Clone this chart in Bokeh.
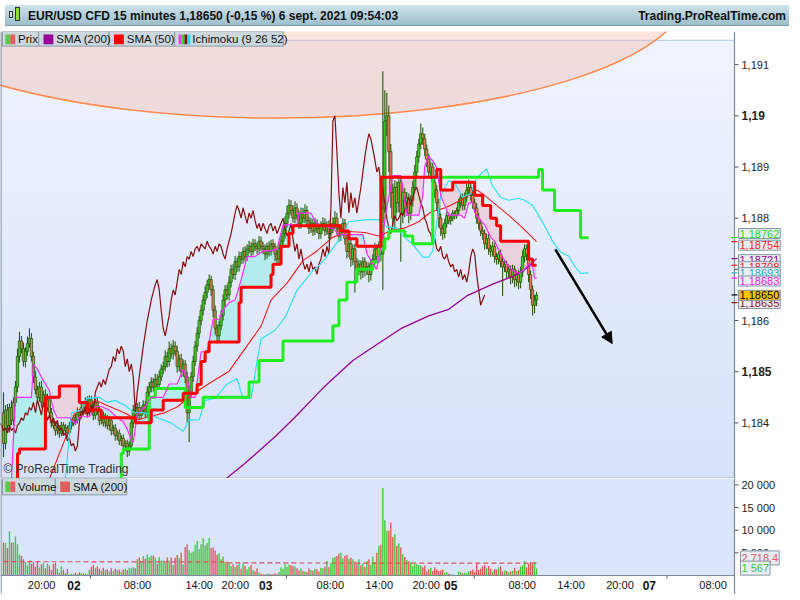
import numpy as np
from bokeh.plotting import figure
from bokeh.models import Range1d, Label, Arrow, NormalHead, Div
from bokeh.layouts import column
from bokeh.embed import file_html
from bokeh.resources import INLINE

FONT = "Liberation Sans"

# ---------------- DATA (15-minute bars, index 0 = first visible bar) ----------------
FIRST_OPEN = 1.18420
CLOSE = [
    1.18360, 1.18425, 1.18395, 1.18430, 1.18405, 1.18440, 1.18470, 1.18530, 1.18560, 1.18545,
    1.18520, 1.18540, 1.18555, 1.18565, 1.18530, 1.18490, 1.18465, 1.18450, 1.18470, 1.18440,
    1.18455, 1.18430, 1.18445, 1.18420, 1.18400, 1.18395, 1.18385, 1.18390, 1.18380, 1.18395,
    1.18385, 1.18390, 1.18380, 1.18395, 1.18400, 1.18410, 1.18405, 1.18420, 1.18415, 1.18430,
    1.18425, 1.18440, 1.18420, 1.18445, 1.18430, 1.18415, 1.18440, 1.18425, 1.18405, 1.18415,
    1.18400, 1.18410, 1.18395, 1.18405, 1.18385, 1.18390, 1.18375, 1.18380, 1.18365, 1.18370,
    1.18355, 1.18360, 1.18345, 1.18355, 1.18400, 1.18425, 1.18415, 1.18430, 1.18415, 1.18425,
    1.18435, 1.18420, 1.18460, 1.18470, 1.18480, 1.18470, 1.18485, 1.18475, 1.18490, 1.18505,
    1.18510, 1.18530, 1.18520, 1.18545, 1.18535, 1.18550, 1.18540, 1.18510, 1.18525, 1.18500,
    1.18515, 1.18490, 1.18420, 1.18460, 1.18490, 1.18520, 1.18550, 1.18575, 1.18600, 1.18620,
    1.18640, 1.18655, 1.18670, 1.18680, 1.18660, 1.18620, 1.18585, 1.18570, 1.18590, 1.18610,
    1.18640, 1.18660, 1.18650, 1.18675, 1.18700, 1.18690, 1.18715, 1.18705, 1.18725, 1.18720,
    1.18735, 1.18725, 1.18740, 1.18745, 1.18735, 1.18750, 1.18745, 1.18740, 1.18755, 1.18745,
    1.18740, 1.18730, 1.18745, 1.18735, 1.18750, 1.18745, 1.18730, 1.18720, 1.18740, 1.18755,
    1.18770, 1.18790, 1.18810, 1.18825, 1.18815, 1.18800, 1.18820, 1.18805, 1.18790, 1.18810,
    1.18800, 1.18815, 1.18795, 1.18780, 1.18790, 1.18775, 1.18790, 1.18780, 1.18770, 1.18785,
    1.18790, 1.18775, 1.18785, 1.18770, 1.18780, 1.18790, 1.18800, 1.18780, 1.18765, 1.18775,
    1.18790, 1.18760, 1.18735, 1.18750, 1.18720, 1.18740, 1.18715, 1.18700, 1.18710, 1.18695,
    1.18715, 1.18700, 1.18705, 1.18690, 1.18710, 1.18720, 1.18740, 1.18725, 1.18745, 1.18730,
    1.18820, 1.18990, 1.19000, 1.18930, 1.18850, 1.18800, 1.18860, 1.18830, 1.18870, 1.18810,
    1.18850, 1.18820, 1.18840, 1.18810, 1.18835, 1.18860, 1.18890, 1.18920, 1.18945, 1.18965,
    1.18955, 1.18935, 1.18915, 1.18890, 1.18900, 1.18870, 1.18855, 1.18830, 1.18800, 1.18780,
    1.18770, 1.18790, 1.18805, 1.18795, 1.18800, 1.18810, 1.18805, 1.18815, 1.18830, 1.18840,
    1.18825, 1.18840, 1.18855, 1.18860, 1.18845, 1.18830, 1.18820, 1.18800, 1.18790, 1.18775,
    1.18770, 1.18750, 1.18760, 1.18740, 1.18735, 1.18745, 1.18725, 1.18720, 1.18730, 1.18715,
    1.18705, 1.18710, 1.18695, 1.18700, 1.18685, 1.18700, 1.18680, 1.18690, 1.18675, 1.18695,
    1.18725, 1.18740, 1.18730, 1.18690, 1.18660, 1.18630, 1.18640, 1.18650,
]
# wick lengths above / below the body, in points (0.00001)
WICK_UP = [
    40, 10, 12, 8, 14, 10, 12, 15, 18, 10, 12, 8, 14, 20, 10, 9, 12, 8, 10, 12,
    8, 10, 12, 7, 9, 6, 8, 10, 5, 7, 6, 8, 5, 7, 9, 6, 8, 10, 7, 9,
    8, 10, 12, 9, 8, 10, 7, 9, 8, 6, 7, 9, 6, 8, 7, 6, 8, 5, 7, 6,
    8, 6, 7, 9, 12, 10, 8, 9, 11, 7, 9, 8, 12, 10, 9, 8, 11, 10, 12, 9,
    10, 12, 9, 14, 10, 12, 9, 11, 8, 10, 9, 8, 10, 12, 9, 11, 10, 12, 9, 11,
    10, 12, 9, 10, 8, 9, 10, 7, 9, 10, 11, 9, 10, 12, 9, 10, 11, 8, 10, 9,
    8, 10, 9, 11, 8, 10, 9, 8, 10, 9, 8, 9, 7, 10, 8, 9, 7, 8, 9, 11,
    12, 14, 15, 12, 10, 11, 13, 9, 10, 11, 10, 12, 9, 8, 10, 9, 11, 8, 10, 9,
    12, 10, 9, 11, 10, 12, 14, 10, 9, 11, 10, 9, 8, 10, 9, 8, 10, 7, 9, 8,
    9, 8, 10, 9, 8, 10, 12, 9, 10, 9, 267, 60, 45, 20, 15, 18, 14, 12, 15, 10,
    12, 9, 11, 8, 10, 12, 14, 12, 10, 20, 12, 10, 9, 11, 10, 8, 9, 10, 8, 9,
    7, 9, 8, 6, 7, 6, 5, 6, 8, 9, 8, 10, 12, 15, 9, 10, 8, 9, 10, 8,
    9, 8, 10, 9, 8, 10, 9, 8, 7, 9, 8, 9, 7, 10, 8, 9, 7, 8, 9, 10,
    12, 9, 8, 10, 8, 9, 10, 6,
]
WICK_DN = [
    27, 12, 10, 14, 9, 11, 8, 10, 12, 9, 10, 12, 9, 8, 10, 12, 9, 11, 8, 10,
    9, 11, 8, 10, 9, 7, 10, 8, 9, 6, 7, 8, 9, 6, 8, 7, 9, 6, 8, 7,
    9, 8, 10, 7, 9, 10, 8, 9, 10, 8, 7, 9, 8, 10, 9, 8, 10, 9, 8, 10,
    9, 10, 12, 9, 8, 10, 9, 8, 10, 9, 8, 10, 9, 8, 10, 9, 8, 10, 9, 8,
    10, 9, 12, 10, 9, 11, 10, 12, 9, 11, 10, 12, 20, 58, 12, 10, 9, 11, 10, 9,
    10, 9, 11, 10, 12, 14, 12, 15, 10, 9, 10, 12, 9, 11, 10, 9, 11, 10, 9, 10,
    9, 10, 8, 9, 10, 8, 9, 10, 8, 9, 10, 12, 9, 10, 8, 9, 14, 12, 9, 10,
    9, 10, 8, 11, 10, 9, 10, 9, 11, 10, 9, 10, 12, 11, 9, 10, 8, 9, 11, 10,
    9, 10, 8, 11, 10, 9, 10, 12, 11, 9, 10, 12, 14, 11, 15, 12, 60, 14, 12, 15,
    12, 14, 11, 15, 12, 10, 11, 12, 10, 14, 70, 10, 30, 40, 30, 22, 25, 20, 18, 95,
    20, 18, 15, 20, 14, 12, 10, 12, 11, 10, 12, 14, 15, 12, 14, 12, 15, 14, 18, 15,
    12, 9, 8, 7, 8, 6, 7, 6, 8, 9, 10, 9, 8, 10, 11, 12, 10, 11, 12, 10,
    12, 11, 10, 12, 11, 10, 12, 11, 10, 12, 57, 10, 12, 11, 14, 12, 15, 13, 14, 12,
    10, 11, 12, 15, 18, 20, 16, 12,
]
VOLUME = [
    7300, 7200, 6100, 9700, 7300, 7300, 8600, 6900, 4600, 4300,
    3600, 3000, 2200, 3300, 2600, 2900, 2000, 3100, 1800, 2500,
    2800, 1600, 2600, 2200, 1200, 2600, 2800, 1500, 600, 2000,
    1200, 500, 1500, 300, 400, 300, 600, 350, 700, 500,
    400, 450, 300, 1200, 1900, 2300, 1600, 2000, 1500, 1100,
    1700, 1200, 1400, 900, 1600, 1000, 1500, 1200, 1300, 900,
    1300, 1500, 1200, 1700, 1600, 1800, 1600, 3600, 4000, 3200,
    4300, 3700, 4700, 4100, 4400, 4400, 3900, 2600, 4100, 3300,
    3300, 2800, 4000, 3300, 4000, 2300, 3900, 4500, 3800, 5100,
    2500, 6300, 6900, 5600, 5000, 5300, 6800, 7600, 5800, 6900,
    8200, 6600, 7200, 8300, 6100, 6200, 5500, 4600, 4900, 3600,
    4200, 2900, 3100, 2600, 2100, 2500, 1900, 2300, 2600, 1500,
    2700, 2100, 1300, 1900, 2300, 1200, 900, 1600, 600, 400,
    300, 200, 350, 400, 250, 300, 500, 250, 800, 1800,
    1500, 2600, 1900, 2400, 2300, 2100, 2000, 1600, 1100, 1600,
    1000, 900, 800, 1600, 1200, 1100, 1500, 1400, 900, 1700,
    1600, 2000, 3200, 1800, 2700, 3900, 4100, 4300, 4800, 5000,
    3800, 4300, 4600, 3700, 3900, 3600, 3100, 2500, 3600, 2200,
    2600, 1900, 3200, 3600, 2400, 4200, 3000, 5000, 6500, 6800,
    19300, 12200, 9900, 9900, 11700, 8500, 9100, 6500, 7100, 6200,
    4700, 4100, 3400, 3200, 3000, 2000, 2500, 2500, 2300, 2200,
    1800, 2200, 900, 1400, 1700, 1000, 1800, 1300, 1000, 1100,
    1300, 600, 800, 400, 300, 200, 100, 100, 900, 700,
    500, 600, 500, 900, 1000, 1300, 700, 2700, 1200, 1500,
    2000, 2300, 1600, 2100, 1500, 900, 1400, 1300, 1800, 2000,
    900, 1100, 1000, 700, 900, 1000, 1700, 1000, 1200, 2000,
    2200, 3200, 1800, 2600, 3000, 2600, 3000, 1567,
]
VOL_SMA_BARS = [0, 110, 112, 267]
VOL_SMA = [3050, 3000, 2780, 2718.4]

SMA200_BARS = [108, 121, 136, 146, 160, 175, 187, 199, 213, 223, 232, 245, 255, 262, 267]
SMA200_VALS = [1.18280, 1.18321, 1.18373, 1.18411, 1.18468, 1.18522, 1.18553, 1.18584,
               1.18609, 1.18622, 1.18648, 1.18671, 1.18686, 1.18702, 1.18721]

SMA50_BARS = [23, 36, 46, 52, 61, 67, 73, 80, 87, 95, 103, 113, 121, 129, 134, 142, 150,
              157, 165, 173, 181, 188, 193, 201, 208, 214, 221, 229, 237, 240, 247, 253, 260, 267]
SMA50_VALS = [1.18291, 1.18419, 1.18444, 1.18434, 1.18419, 1.18406, 1.18412, 1.18419, 1.18431,
              1.18457, 1.18477, 1.18501, 1.18545, 1.18589, 1.18640, 1.18673, 1.18717, 1.18736,
              1.18763, 1.18774, 1.18772, 1.18765, 1.18774, 1.18781, 1.18793, 1.18812, 1.18820,
              1.18835, 1.18855, 1.18848, 1.18825, 1.18806, 1.18781, 1.18754]

# Ichimoku (9 26 52)
ICHI_RED_BARS = [4, 7, 8, 21, 28, 38, 42, 49, 66, 74, 80, 90, 97, 99, 101, 103, 118, 119, 134,
                 135, 139, 143, 145, 169, 173, 177, 189, 217, 219, 225, 236, 240, 244, 247, 249,
                 263, 265, 267]
ICHI_RED_VALS = [1.18270, 1.18340, 1.18349, 1.18450, 1.18472, 1.18440, 1.18425, 1.18410, 1.18400,
                 1.18425, 1.18444, 1.18458, 1.18475, 1.18520, 1.18539, 1.18558, 1.18635, 1.18665,
                 1.18690, 1.18710, 1.18745, 1.18770, 1.18785, 1.18775, 1.18760, 1.18745, 1.18880,
                 1.18895, 1.18855, 1.18870, 1.18845, 1.18825, 1.18800, 1.18785, 1.18755, 1.18720,
                 1.18708, 1.18708]
ICHI_GREEN_BARS = [57, 59, 60, 73, 76, 91, 100, 123, 128, 140, 165, 168, 172, 177, 185, 188, 191,
                   193, 201, 205, 215, 268, 270, 276, 289, 293]
ICHI_GREEN_VALS = [1.18290, 1.18340, 1.18349, 1.18450, 1.18467, 1.18430, 1.18450, 1.18480, 1.18522,
                   1.18560, 1.18590, 1.18640, 1.18675, 1.18700, 1.18715, 1.18740, 1.18760, 1.18775,
                   1.18765, 1.18750, 1.18880, 1.18895, 1.18855, 1.18815, 1.18762, 1.18762]
ICHI_CYAN_BARS = [31, 34, 39, 42, 48, 52, 56, 61, 65, 72, 77, 84, 90, 93, 98, 101, 106, 112, 117,
                  120, 124, 127, 129, 136, 141, 147, 150, 155, 159, 164, 170, 173, 182, 188, 192,
                  197, 201, 205, 210, 213, 215, 219, 223, 226, 230, 234, 237, 242, 245, 249, 253,
                  258, 261, 265, 268, 272, 275, 279, 283, 286, 289, 293]
ICHI_CYAN_VALS = [1.18291, 1.18419, 1.18425, 1.18448, 1.18450, 1.18440, 1.18444, 1.18434, 1.18421,
                  1.18419, 1.18410, 1.18400, 1.18383, 1.18406, 1.18406, 1.18444, 1.18448, 1.18476,
                  1.18486, 1.18448, 1.18448, 1.18520, 1.18564, 1.18581, 1.18606, 1.18659, 1.18673,
                  1.18698, 1.18711, 1.18736, 1.18768, 1.18793, 1.18797, 1.18797, 1.18783, 1.18781,
                  1.18762, 1.18749, 1.18724, 1.18724, 1.18736, 1.18844, 1.18873, 1.18869, 1.18841,
                  1.18848, 1.18879, 1.18896, 1.18863, 1.18841, 1.18835, 1.18839, 1.18835, 1.18825,
                  1.18806, 1.18778, 1.18755, 1.18734, 1.18726, 1.18707, 1.18692, 1.18693]
ICHI_MAG_BARS = [4, 6, 14, 15, 17, 20, 23, 25, 27, 33, 36, 38, 43, 46, 49, 53, 57, 60, 62, 64,
                 65, 67, 71, 74, 80, 83, 87, 90, 92, 94, 96, 99, 102, 105, 108, 110, 113, 116, 119,
                 122, 126, 130, 134, 137, 140, 147, 148, 154, 156, 158, 165, 168, 180, 182, 185,
                 187, 189, 192, 195, 199, 202, 208, 209, 210, 211, 213, 215, 217, 219, 221, 223,
                 229, 231, 233, 235, 236, 238, 241, 244, 246, 249, 252, 255, 258, 261, 263, 265,
                 266, 267]
ICHI_MAG_VALS = [1.18291, 1.18450, 1.18450, 1.18515, 1.18505, 1.18482, 1.18463, 1.18425, 1.18410,
                 1.18410, 1.18398, 1.18412, 1.18412, 1.18432, 1.18432, 1.18425, 1.18410, 1.18402,
                 1.18387, 1.18368, 1.18362, 1.18418, 1.18432, 1.18450, 1.18450, 1.18476, 1.18476,
                 1.18505, 1.18486, 1.18450, 1.18450, 1.18539, 1.18539, 1.18602, 1.18602, 1.18621,
                 1.18635, 1.18640, 1.18679, 1.18725, 1.18725, 1.18736, 1.18736, 1.18740, 1.18787,
                 1.18787, 1.18810, 1.18810, 1.18795, 1.18787, 1.18780, 1.18768, 1.18768, 1.18730,
                 1.18711, 1.18700, 1.18745, 1.18820, 1.18883, 1.18883, 1.18806, 1.18806, 1.18825,
                 1.18844, 1.18902, 1.18921, 1.18912, 1.18898, 1.18844, 1.18825, 1.18806, 1.18806,
                 1.18800, 1.18830, 1.18830, 1.18812, 1.18800, 1.18787, 1.18763, 1.18755, 1.18730,
                 1.18711, 1.18698, 1.18692, 1.18700, 1.18711, 1.18705, 1.18683, 1.18683]
CHIKOU_SHIFT = 26

# drawing objects (bar index / price)
ELLIPSE = dict(x=136.7, y=1.192436, w=411.8, h=0.004959)
ARROW = dict(x0=276.4, y0=1.18739, x1=304.9, y1=1.18555)

# axes
TIME_TICK_BARS = [19.1, 35.3, 67.1, 98.0, 116.1, 131.3, 163.7, 188.2, 211.7, 224.0, 259.8, 284.3, 308.8, 323.5, 355.4]
TIME_TICK_LABELS = ["20:00", "02", "08:00", "14:00", "20:00", "03", "08:00", "14:00", "20:00",
                    "05", "08:00", "14:00", "20:00", "07", "08:00"]
TIME_MINOR_BARS = [43.6, 141.7, 235.8, 332.3]
PRICE_TICKS = [1.184, 1.185, 1.186, 1.187, 1.188, 1.189, 1.190, 1.191]
PRICE_TICK_LABELS = ["1,184", "1,185", "1,186", "1,187", "1,188", "1,189", "1,19", "1,191"]
VOL_TICKS = [5000, 10000, 15000, 20000]
VOL_TICK_LABELS = ["5 000", "10 000", "15 000", "20 000"]

TAG_TEXTS = ["1,18762", "1,18754", "1,18721", "1,18708", "1,18693", "1,18683", "1,18635", "1,18650"]
TAG_COLORS = ["#22dd22", "#ff2222", "#990099", "#ee2222", "#19b2c4", "#ee22ee", "#8b1010", "#000000"]
TAG_VALUES = [1.18762, 1.18754, 1.18721, 1.18708, 1.18693, 1.18683, 1.18635, 1.18650]
TAG_POS = [1.187700, 1.187472, 1.187191, 1.187052, 1.186937, 1.186771, 1.186333, 1.186493]
VTAG_TEXTS = ["2 718,4", "1 567"]
VTAG_COLORS = ["#e85a5a", "#33cc33"]
VTAG_POS = [3880, 1630]

# ---------------- LAYOUT ----------------
W, AXW = 784, 50
FW = W - AXW
HEAD_H, MAIN_H, VOL_FH, XAX_H = 21, 447, 97, 19
X0 = -1.5
X1 = X0 + 750 / 2.04          # right edge of the plotting area (axis line)
BPP = (X1 - X0) / FW          # bars per screen pixel
XE = X1 + AXW * BPP           # right edge of the figure
Y0, Y1 = 1.182913, 1.191648
VY1 = 21421.0
VYB = -XAX_H / VOL_FH * VY1   # bottom of the time-axis strip


def mx(px):
    return X0 + px / 750.0 * (X1 - X0)


def my(py):
    return Y1 - (py - 22.0) / 458.0 * (Y1 - Y0)


def vy(py):
    return (581.0 - py) / 101.0 * VY1


GREEN_UP = "#3fd02a"
RED_DN = "#f07a5e"
OUTLINE = "#2a5a0c"
AXIS_C = "#7b8b97"

header_html = (
    '<div style="position:relative;width:784px;height:21px;box-sizing:border-box;'
    'background:linear-gradient(#cfe3eb,#9cbecb);border-bottom:1px solid #7f99a5;'
    "font-family:'Liberation Sans',Arial,sans-serif;font-weight:bold;font-size:12px;color:#111;\">"
    '<span style="position:absolute;left:4px;top:6px;width:4px;height:7px;border:1px solid #333;background:#ddd"></span>'
    '<span style="position:absolute;left:10px;top:2px;width:5px;height:14px;border:1px solid #333;background:#8fdc30"></span>'
    '<span style="position:absolute;left:23px;top:3px;">EUR/USD CFD 15 minutes 1,18650 (-0,15 %) 6 sept. 2021 09:54:03</span>'
    '<span style="position:absolute;right:3px;top:3px;">Trading.ProRealTime.com</span></div>'
)
header = Div(text=header_html, width=W, height=HEAD_H)

xr = Range1d(X0, XE)


def base_fig(height, y0, y1):
    f = figure(width=W, height=height, x_range=xr, y_range=Range1d(y0, y1),
               output_backend="svg", toolbar_location=None, x_axis_location=None,
               y_axis_location=None, min_border=0)
    f.grid.visible = False
    f.background_fill_color = "white"
    f.border_fill_color = "white"
    f.outline_line_color = None
    return f


def lab(f, x, y, text, size="11px", color="#222222", bold=False, align="left", **kw):
    f.add_layout(Label(x=x, y=y, text=text, text_font=FONT, text_font_size=size,
                       text_font_style="bold" if bold else "normal", text_color=color,
                       text_align=align, text_baseline="middle", **kw))


# ---------------- MAIN PANEL ----------------
p = base_fig(MAIN_H, Y0, Y1)

n = 46
top_line = my(31)
edges = np.linspace(Y0, top_line, n + 1)
top_c, bot_c = (240, 244, 254), (215, 225, 249)
cols = []
for k in range(n):
    t = (k + 0.5) / n
    rgb = tuple(int(round(b + (a - b) * t)) for a, b in zip(top_c, bot_c))
    cols.append("#%02x%02x%02x" % rgb)
p.quad(left=X0, right=X1, bottom=edges[:-1], top=edges[1:], fill_color=cols, line_color=cols, line_width=1)
p.segment(x0=[X0], x1=[X1], y0=[top_line], y1=[top_line], line_color="#b5c7ee", line_width=1)

# ellipse drawing
p.ellipse(x=[ELLIPSE["x"]], y=[ELLIPSE["y"]], width=[ELLIPSE["w"]], height=[ELLIPSE["h"]],
          fill_color="#f6a080", fill_alpha=0.27, line_color="#ff8a4e", line_width=1.5)

# cloud fill between red and magenta lines
gx = np.arange(ICHI_RED_BARS[0], ICHI_RED_BARS[-1] + 0.001, 0.05)
rv = np.array(ICHI_RED_VALS)
red_g = rv[np.searchsorted(np.array(ICHI_RED_BARS), gx, side="right") - 1]
mag_g = np.interp(gx, ICHI_MAG_BARS, ICHI_MAG_VALS)
hi_g = np.maximum(red_g, mag_g)
p.varea(x=gx, y1=red_g, y2=hi_g, fill_color="#b3ecee")
p.varea(x=gx, y1=mag_g, y2=hi_g, fill_color="#ead3df")

# candles
idx = np.arange(len(CLOSE))
close = np.array(CLOSE)
opn = np.concatenate([[FIRST_OPEN], close[:-1]])
btop = np.maximum(opn, close)
bbot = np.minimum(opn, close)
high = btop + np.array(WICK_UP) * 1e-5
low = bbot - np.array(WICK_DN) * 1e-5
up = close >= opn
ccol = [GREEN_UP if u else RED_DN for u in up]
p.segment(x0=idx, x1=idx, y0=low, y1=high, line_color=OUTLINE, line_width=1.1)
p.vbar(x=idx, width=1.15, top=btop, bottom=bbot, fill_color=ccol, line_color=OUTLINE, line_width=0.8)

# indicator lines
p.line(SMA200_BARS, SMA200_VALS, line_color="#990099", line_width=1.3)
p.line(SMA50_BARS, SMA50_VALS, line_color="#ff1a1a", line_width=1.1)
p.line(idx - CHIKOU_SHIFT, close, line_color="#8b0d0d", line_width=1.2)
p.line(ICHI_CYAN_BARS, ICHI_CYAN_VALS, line_color="#2fe4f2", line_width=1.2)
p.step(ICHI_GREEN_BARS, ICHI_GREEN_VALS, mode="after", line_color="#1fee1f", line_width=3)
p.line(ICHI_MAG_BARS, ICHI_MAG_VALS, line_color="#ff2bff", line_width=1.2)
p.step(ICHI_RED_BARS, ICHI_RED_VALS, mode="after", line_color="#ff0000", line_width=3)

p.add_layout(Arrow(end=NormalHead(size=11, fill_color="black", line_color="black"),
                   x_start=ARROW["x0"], y_start=ARROW["y0"], x_end=ARROW["x1"], y_end=ARROW["y1"],
                   line_color="black", line_width=2.5))

# right axis area
p.quad(left=[X1], right=[XE], bottom=[Y0], top=[Y1], fill_color="white", line_color=None)
p.segment(x0=[X1], x1=[X1], y0=[Y0], y1=[Y1], line_color=AXIS_C, line_width=1.2)
p.segment(x0=[X0 + 0.5 * BPP], x1=[X0 + 0.5 * BPP], y0=[Y0], y1=[Y1], line_color=AXIS_C, line_width=1.2)
p.segment(x0=[X0], x1=[X1], y0=[Y0], y1=[Y0], line_color=AXIS_C, line_width=1.5)
p.segment(x0=[X1] * len(PRICE_TICKS), x1=[X1 + 4 * BPP] * len(PRICE_TICKS),
          y0=PRICE_TICKS, y1=PRICE_TICKS, line_color="#555555", line_width=1)
p.segment(x0=[X1 - 3 * BPP] * len(TAG_VALUES), x1=[X1 + 3 * BPP] * len(TAG_VALUES),
          y0=TAG_VALUES, y1=TAG_VALUES, line_color=TAG_COLORS, line_width=1.2)

# legend row
LEG_BG, LEG_BD = "#ccd8de", "#8b9ca7"
for a, b in [(2, 39), (39, 111), (111, 178), (178, 289)]:
    p.quad(left=[mx(a)], right=[mx(b)], bottom=[my(37)], top=[my(22)], fill_color=LEG_BG, line_color=LEG_BD)
sw = [(5, 10, "#55cc44"), (10, 15, "#e06060"), (44, 54, "#990099"), (116, 126, "#ff0000"),
      (182, 185, "#ff33ff"), (185, 188, "#22dd22"), (188, 191, "#8b0d0d"), (191, 194, "#22ddee")]
for a, b, c in sw:
    p.quad(left=[mx(a)], right=[mx(b)], bottom=[my(35)], top=[my(25)], fill_color=c, line_color=None)
for xpx, txt in [(18, "Prix"), (57, "SMA (200)"), (129, "SMA (50)"), (196, "Ichimoku (9 26 52)")]:
    lab(p, mx(xpx), my(29.5), txt, size="11.5px", color="#111111")

lab(p, mx(3), my(470.5), "\u00a9 ProRealTime Trading", size="12px", color="#333333")

for v_, t_ in zip(PRICE_TICKS, PRICE_TICK_LABELS):
    bold = t_ in ("1,19", "1,185")
    lab(p, X1 + 7 * BPP, v_, t_, size="12px" if bold else "11px", bold=bold)
for txt, col, ypos in zip(TAG_TEXTS, TAG_COLORS, TAG_POS):
    bg = "#f7c600" if txt == "1,18650" else "#e9eef4"
    lab(p, X1 + 4 * BPP, ypos, txt, color=col, background_fill_color=bg,
        border_line_color="#8796a3", padding=1)

# ---------------- VOLUME PANEL ----------------
v = base_fig(VOL_FH + XAX_H, VYB, VY1)
v.quad(left=[X0], right=[X1], bottom=[0], top=[VY1], fill_color="#dae4fb", line_color=None)

vcol = ["#3fcc33" if u else "#e65656" for u in up]
v.vbar(x=idx, width=0.68, top=VOLUME, bottom=0, fill_color=vcol, line_color=None)
v.line(VOL_SMA_BARS, VOL_SMA, line_color="#e05050", line_width=1.2, line_dash="5 3")

v.segment(x0=[X1], x1=[X1], y0=[VYB], y1=[VY1], line_color=AXIS_C, line_width=1.2)
v.segment(x0=[X0 + 0.5 * BPP], x1=[X0 + 0.5 * BPP], y0=[VYB], y1=[VY1], line_color=AXIS_C, line_width=1.2)
v.segment(x0=[X0], x1=[X1], y0=[0], y1=[0], line_color=AXIS_C, line_width=1.2)
v.segment(x0=[X1] * len(VOL_TICKS), x1=[X1 + 4 * BPP] * len(VOL_TICKS),
          y0=VOL_TICKS, y1=VOL_TICKS, line_color="#555555", line_width=1)
tick_len = 3.0 / VOL_FH * VY1
v.segment(x0=TIME_MINOR_BARS, x1=TIME_MINOR_BARS, y0=[0] * len(TIME_MINOR_BARS),
          y1=[-tick_len] * len(TIME_MINOR_BARS), line_color="#555555", line_width=1)

for a, b in [(2, 56), (56, 129)]:
    v.quad(left=[mx(a)], right=[mx(b)], bottom=[vy(497)], top=[vy(480)], fill_color=LEG_BG, line_color=LEG_BD)
for a, b, c in [(5, 10, "#55cc44"), (10, 15, "#e06060"), (61, 71, "#e06060")]:
    v.quad(left=[mx(a)], right=[mx(b)], bottom=[vy(494)], top=[vy(483)], fill_color=c, line_color=None)
for xpx, txt in [(18, "Volume"), (74, "SMA (200)")]:
    lab(v, mx(xpx), vy(488.5), txt, size="11.5px", color="#111111")

for v_, t_ in zip(VOL_TICKS, VOL_TICK_LABELS):
    lab(v, X1 + 7 * BPP, v_, t_)
for txt, col, ypos in zip(VTAG_TEXTS, VTAG_COLORS, VTAG_POS):
    lab(v, X1 + 6 * BPP, ypos, txt, color=col, background_fill_color="#e9eef4",
        border_line_color="#8796a3", padding=1)

ylab = -(9.5 / VOL_FH) * VY1
for b, t_ in zip(TIME_TICK_BARS, TIME_TICK_LABELS):
    day = ":" not in t_
    lab(v, b, ylab, t_, size="12px" if day else "11px", bold=day, color="#111111", align="center")

layout = column(header, p, v, spacing=0)
open("out.html", "w").write(file_html(layout, INLINE))
